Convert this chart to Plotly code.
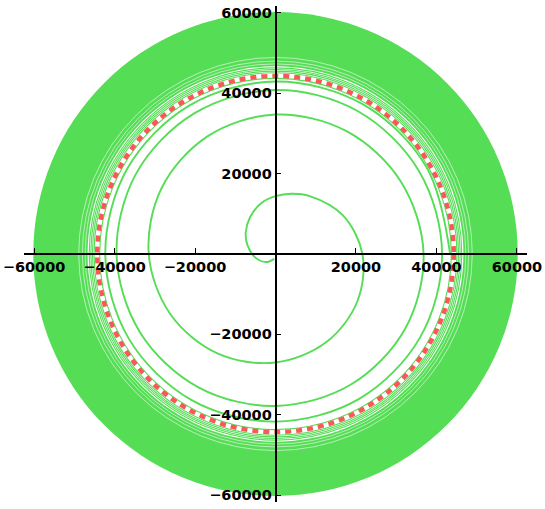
import plotly.graph_objects as go

# Spiral trajectory points (data units)
spiral_x = [-300, -2300, -5000, -6900, -7400, -6300, -3500, 0, 4000,
            8350, 16710, 21600, 20350, 12650, 0, -14300, -26070, -31500, -28320, -16900, 0,
            17650, 31180, 36800, 32220, 18750, 0, -19150, -33690, -39500, -34640, -20200, 0,
            20500, 35680, 41400, 35940, 20800, 0, -20950, -36460, -42300, -36810, -21350, 0,
            21550, 37500, 43400]
spiral_y = [-1200, -2000, -900, 2000, 5300, 9200, 12700, 14400, 15000,
            14460, 9650, 0, -11750, -21910, -27000, -24770, -15050, 0, 16350, 29270, 34700,
            30570, 18000, 0, -18600, -32480, -37800, -33170, -19450, 0, 20000, 34990, 40800,
            35510, 20600, 0, -20750, -36030, -41700, -36290, -21050, 0, 21250, 36980, 42900,
            37330, 21650, 0]

# Radii
ring_radii = [43700, 45100, 45500, 45900, 46300]   # thin green rings near the limit
band_outer = 60200                                 # outer edge of the filled band
band_inner = 46700                                 # inner edge of the filled band
band_gaps = [47300, 48000, 48900]                  # faint white gaps in the band
red_radius = 44300                                 # dashed red circle

tick_vals = [-60000, -40000, -20000, 20000, 40000, 60000]
tick_text = ["\u221260000", "\u221240000", "\u221220000", "20000", "40000", "60000"]

GREEN = "rgb(86,221,86)"
RED = "rgb(250,88,88)"

def circ(r, **kw):
    return dict(type="circle", xref="x", yref="y", x0=-r, y0=-r, x1=r, y1=r, **kw)

shapes = [circ(band_outer, fillcolor=GREEN, line=dict(width=0), layer="below"),
          circ(band_inner, fillcolor="white", line=dict(width=0), layer="below")]
for r in band_gaps:
    shapes.append(circ(r, line=dict(color="rgba(255,255,255,0.8)", width=0.7), layer="below"))
for r in ring_radii:
    shapes.append(circ(r, line=dict(color=GREEN, width=1.1), layer="below"))
shapes.append(circ(red_radius, line=dict(color=RED, width=4.5, dash="6px,5px"), layer="below"))

fig = go.Figure()
fig.add_trace(go.Scatter(x=spiral_x, y=spiral_y, mode="lines",
                         line=dict(color=GREEN, width=1.9, shape="spline", smoothing=1.0),
                         hoverinfo="skip", showlegend=False))

axis_common = dict(showgrid=False, zeroline=False, showline=True, linecolor="black", linewidth=1.6,
                   ticks="inside", ticklen=5, tickwidth=1.4, tickcolor="black",
                   tickvals=tick_vals, ticktext=tick_text, fixedrange=True, automargin=False,
                   ticklabeloverflow="allow",
                   tickfont=dict(family="DejaVu Sans", size=14.5, color="black", weight="bold"),
                   anchor="free", position=0.5)

fig.update_layout(
    width=545, height=509,
    margin=dict(l=24, r=18, t=6, b=7, autoexpand=False),
    paper_bgcolor="white", plot_bgcolor="white",
    xaxis=dict(range=[-62500, 62500], side="bottom", **axis_common),
    yaxis=dict(range=[-61700, 61700], side="left", **axis_common),
    shapes=shapes,
    showlegend=False,
)

fig.write_html("out.html", config={"displayModeBar": False},
               post_script="document.body.style.margin='0px';")
